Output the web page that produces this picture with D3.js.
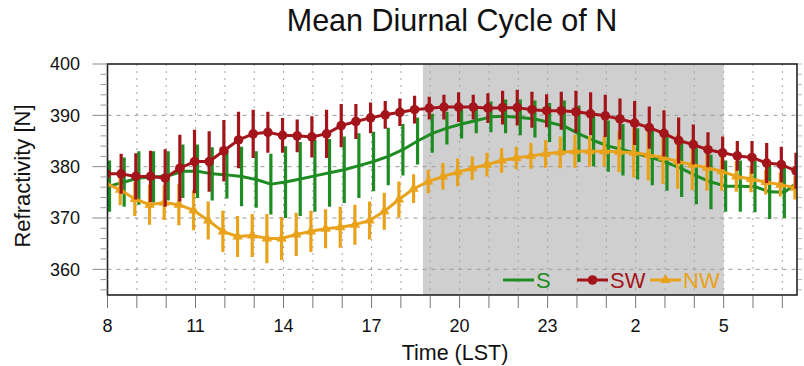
<!DOCTYPE html>
<html>
<head>
<meta charset="utf-8">
<script src="https://cdn.jsdelivr.net/npm/d3@7"></script>
<style>
html,body{margin:0;padding:0;background:#fff;}
svg{display:block;font-family:"Liberation Sans",Arial,Helvetica,sans-serif;}
</style>
</head>
<body>
<svg id="chart" width="804" height="366"></svg>
<script>
const timeHours = [8,8.5,9,9.5,10,10.5,11,11.5,12,12.5,13,13.5,14,14.5,15,15.5,16,16.5,17,17.5,18,18.5,19,19.5,20,20.5,21,21.5,22,22.5,23,23.5,24,24.5,25,25.5,26,26.5,27,27.5,28,28.5,29,29.5,30,30.5,31,31.5];
const sMean = [376.2,377.0,377.8,378.0,378.2,379.1,379.1,378.6,378.4,378.1,377.5,376.6,377.0,377.6,378.2,378.8,379.4,380.2,381.0,382.0,383.3,385.0,386.5,387.5,388.3,389.0,389.7,389.8,389.6,389.3,388.6,387.9,386.4,385.1,384.0,383.3,382.5,381.7,380.8,379.6,378.2,377.0,376.2,376.2,376.1,375.1,375.0,377.2];
const sErr = [5.0,4.8,5.2,5.0,4.8,5.2,5.2,5.2,4.6,5.8,5.5,5.9,7.0,7.2,7.0,6.6,6.5,6.3,5.8,5.6,5.0,4.6,3.8,3.2,2.8,2.5,3.0,3.3,3.5,3.6,3.8,5.0,5.5,5.0,5.0,5.0,5.0,5.3,5.5,5.5,5.5,5.3,5.0,5.0,5.0,5.3,5.0,5.0];
const swMean = [378.6,378.6,378.1,378.1,377.8,379.7,381.0,381.0,383.1,385.2,386.4,386.7,386.1,386.0,385.8,386.4,388.0,388.8,389.5,390.1,390.6,391.1,391.4,391.6,391.6,391.6,391.4,391.5,391.5,391.1,390.9,390.9,390.7,390.3,389.9,389.3,388.5,387.6,386.5,385.1,384.3,383.3,382.7,382.1,381.8,380.7,380.4,379.2];
const swErr = [4.0,3.9,4.5,5.0,5.6,6.5,6.2,5.9,6.0,5.5,4.7,4.0,3.4,3.2,4.0,4.7,4.2,3.4,3.0,2.7,2.7,2.7,2.2,2.4,2.9,2.4,2.9,3.3,3.5,3.5,3.2,3.7,4.1,4.2,4.1,4.0,4.3,4.1,4.5,4.5,3.9,3.4,3.2,2.9,3.2,3.9,3.5,3.5];
const nwMean = [376.8,375.5,373.7,372.6,373.0,372.6,371.5,369.5,367.4,366.4,366.6,366.0,366.0,366.8,367.4,367.9,368.2,368.7,369.5,371.3,373.6,375.7,377.1,378.1,378.9,379.7,380.4,381.2,381.7,382.1,382.5,382.8,383.0,383.0,383.0,382.9,382.7,382.3,381.8,381.0,380.4,379.8,379.1,378.1,377.6,377.0,376.5,375.9];
const nwErr = [3.0,3.0,3.3,3.9,3.4,4.0,3.9,3.7,4.0,4.0,4.2,4.8,4.2,4.2,4.0,3.8,4.0,3.9,3.7,3.6,3.5,2.8,2.3,2.6,2.7,2.3,2.3,2.4,2.2,2.5,2.7,3.1,3.2,3.0,3.0,4.0,4.8,5.0,5.2,5.3,5.0,4.5,3.8,3.0,2.6,2.4,2.3,2.3];
const nightStart = 18.75, nightEnd = 29;
const xTickValues = [8,11,14,17,20,23,26,29];
const xTickLabels = ["8","11","14","17","20","23","2","5"];
const yTickValues = [360,370,380,390,400];
const seriesNames = ["S","SW","NW"];

const colors = {S:"#1e8c23", SW:"#a3151b", NW:"#e8a21b"};
const L = 107.5, R = 797, T = 64, B = 295;
const svg = d3.select("#chart");
const x = d3.scaleLinear().domain([8, 31.5]).range([L, R]);
const y = d3.scaleLinear().domain([355, 400]).range([B, T]);

svg.append("defs").append("clipPath").attr("id","clip")
  .append("rect").attr("x",L).attr("y",T).attr("width",R-L).attr("height",B-T);

const plot = svg.append("g").attr("clip-path","url(#clip)");
plot.append("rect").attr("x",x(nightStart)).attr("y",T)
  .attr("width",x(nightEnd)-x(nightStart)).attr("height",B-T).attr("fill","#cfcfcf");

// grid
plot.append("g").selectAll("line").data(d3.range(9,32)).join("line")
  .attr("x1",d=>x(d)).attr("x2",d=>x(d)).attr("y1",T).attr("y2",B)
  .attr("stroke","#a5a5a5").attr("stroke-width",1).attr("stroke-dasharray","2,5");
plot.append("g").selectAll("line").data([360,370,380,390]).join("line")
  .attr("x1",L).attr("x2",R).attr("y1",d=>y(d)).attr("y2",d=>y(d))
  .attr("stroke","#9a9a9a").attr("stroke-width",1).attr("stroke-dasharray","4,5");

const triSym = d3.symbol().type(d3.symbolTriangle).size(48);
function series(name, mean, err, dx, marker){
  const data = timeHours.map((h,i)=>({h, m:mean[i], e:err[i]}));
  const g = plot.append("g");
  const c = colors[name];
  g.selectAll("line.eb").data(data).join("line").attr("class","eb")
    .attr("x1",d=>x(d.h)+dx).attr("x2",d=>x(d.h)+dx)
    .attr("y1",d=>y(d.m+d.e)).attr("y2",d=>y(d.m-d.e))
    .attr("stroke",c).attr("stroke-width",3.2);
  g.append("path").datum(data)
    .attr("d", d3.line().x(d=>x(d.h)+dx).y(d=>y(d.m)))
    .attr("fill","none").attr("stroke",c).attr("stroke-width",3).attr("stroke-linejoin","round");
  if (marker==="circle"){
    g.selectAll("circle").data(data).join("circle")
      .attr("cx",d=>x(d.h)+dx).attr("cy",d=>y(d.m)).attr("r",4.8).attr("fill",c);
  } else if (marker==="triangle"){
    g.selectAll("path.mk").data(data).join("path").attr("class","mk")
      .attr("transform",d=>`translate(${x(d.h)+dx},${y(d.m)})`)
      .attr("d",triSym).attr("fill",c);
  }
}
series("S", sMean, sErr, 2, null);
series("NW", nwMean, nwErr, -2, "triangle");
series("SW", swMean, swErr, -1, "circle");

// frame
svg.append("rect").attr("x",L).attr("y",T).attr("width",R-L).attr("height",B-T)
  .attr("fill","none").attr("stroke","#222").attr("stroke-width",1.6);

// x ticks
svg.append("g").selectAll("line").data(d3.range(8,32)).join("line")
  .attr("x1",d=>x(d)).attr("x2",d=>x(d)).attr("y1",B+1).attr("y2",B+13)
  .attr("stroke","#777").attr("stroke-width",1);
svg.append("g").selectAll("text").data(xTickValues).join("text")
  .attr("x",d=>x(d)).attr("y",332).attr("text-anchor","middle")
  .attr("font-size",18).attr("fill","#111").text((d,i)=>xTickLabels[i]);

// y ticks
const yMinor = d3.range(356,401,2).filter(v=>v%10!==0);
svg.append("g").selectAll("line").data(yTickValues).join("line")
  .attr("x1",L-15).attr("x2",L).attr("y1",d=>y(d)).attr("y2",d=>y(d))
  .attr("stroke","#888").attr("stroke-width",1);
svg.append("g").selectAll("line").data(yMinor).join("line")
  .attr("x1",L-7).attr("x2",L).attr("y1",d=>y(d)).attr("y2",d=>y(d))
  .attr("stroke","#999").attr("stroke-width",1);
svg.append("g").selectAll("line").data(yTickValues.concat(yMinor)).join("line")
  .attr("x1",R+1).attr("x2",R+5).attr("y1",d=>y(d)).attr("y2",d=>y(d))
  .attr("stroke","#bbb").attr("stroke-width",1);
svg.append("g").selectAll("text").data(yTickValues).join("text")
  .attr("x",80).attr("y",d=>y(d)).attr("dy","0.36em").attr("text-anchor","end")
  .attr("font-size",18).attr("fill","#111").text(d=>d);

// titles
svg.append("text").attr("x",452).attr("y",31).attr("text-anchor","middle")
  .attr("font-size",30.5).attr("fill","#111").text("Mean Diurnal Cycle of N");
svg.append("text").attr("x",455).attr("y",360).attr("text-anchor","middle")
  .attr("font-size",21.5).attr("fill","#111").text("Time (LST)");
svg.append("text").attr("transform","translate(30,176) rotate(-90)").attr("text-anchor","middle")
  .attr("font-size",22).attr("fill","#111").text("Refractivity [N]");

// legend
const lg = svg.append("g").attr("font-size",22);
const legendItems = [
  {name:seriesNames[0], x0:503, marker:null},
  {name:seriesNames[1], x0:577, marker:"circle"},
  {name:seriesNames[2], x0:650, marker:"triangle"}
];
legendItems.forEach(it=>{
  const c = colors[it.name];
  lg.append("line").attr("x1",it.x0).attr("x2",it.x0+31).attr("y1",280).attr("y2",280)
    .attr("stroke",c).attr("stroke-width",3);
  if (it.marker==="circle") lg.append("circle").attr("cx",it.x0+15.5).attr("cy",280).attr("r",4.8).attr("fill",c);
  if (it.marker==="triangle") lg.append("path").attr("transform",`translate(${it.x0+15.5},280)`)
    .attr("d",triSym).attr("fill",c);
  lg.append("text").attr("x",it.x0+33).attr("y",288).attr("fill",c).text(it.name);
});
</script>
</body>
</html>
